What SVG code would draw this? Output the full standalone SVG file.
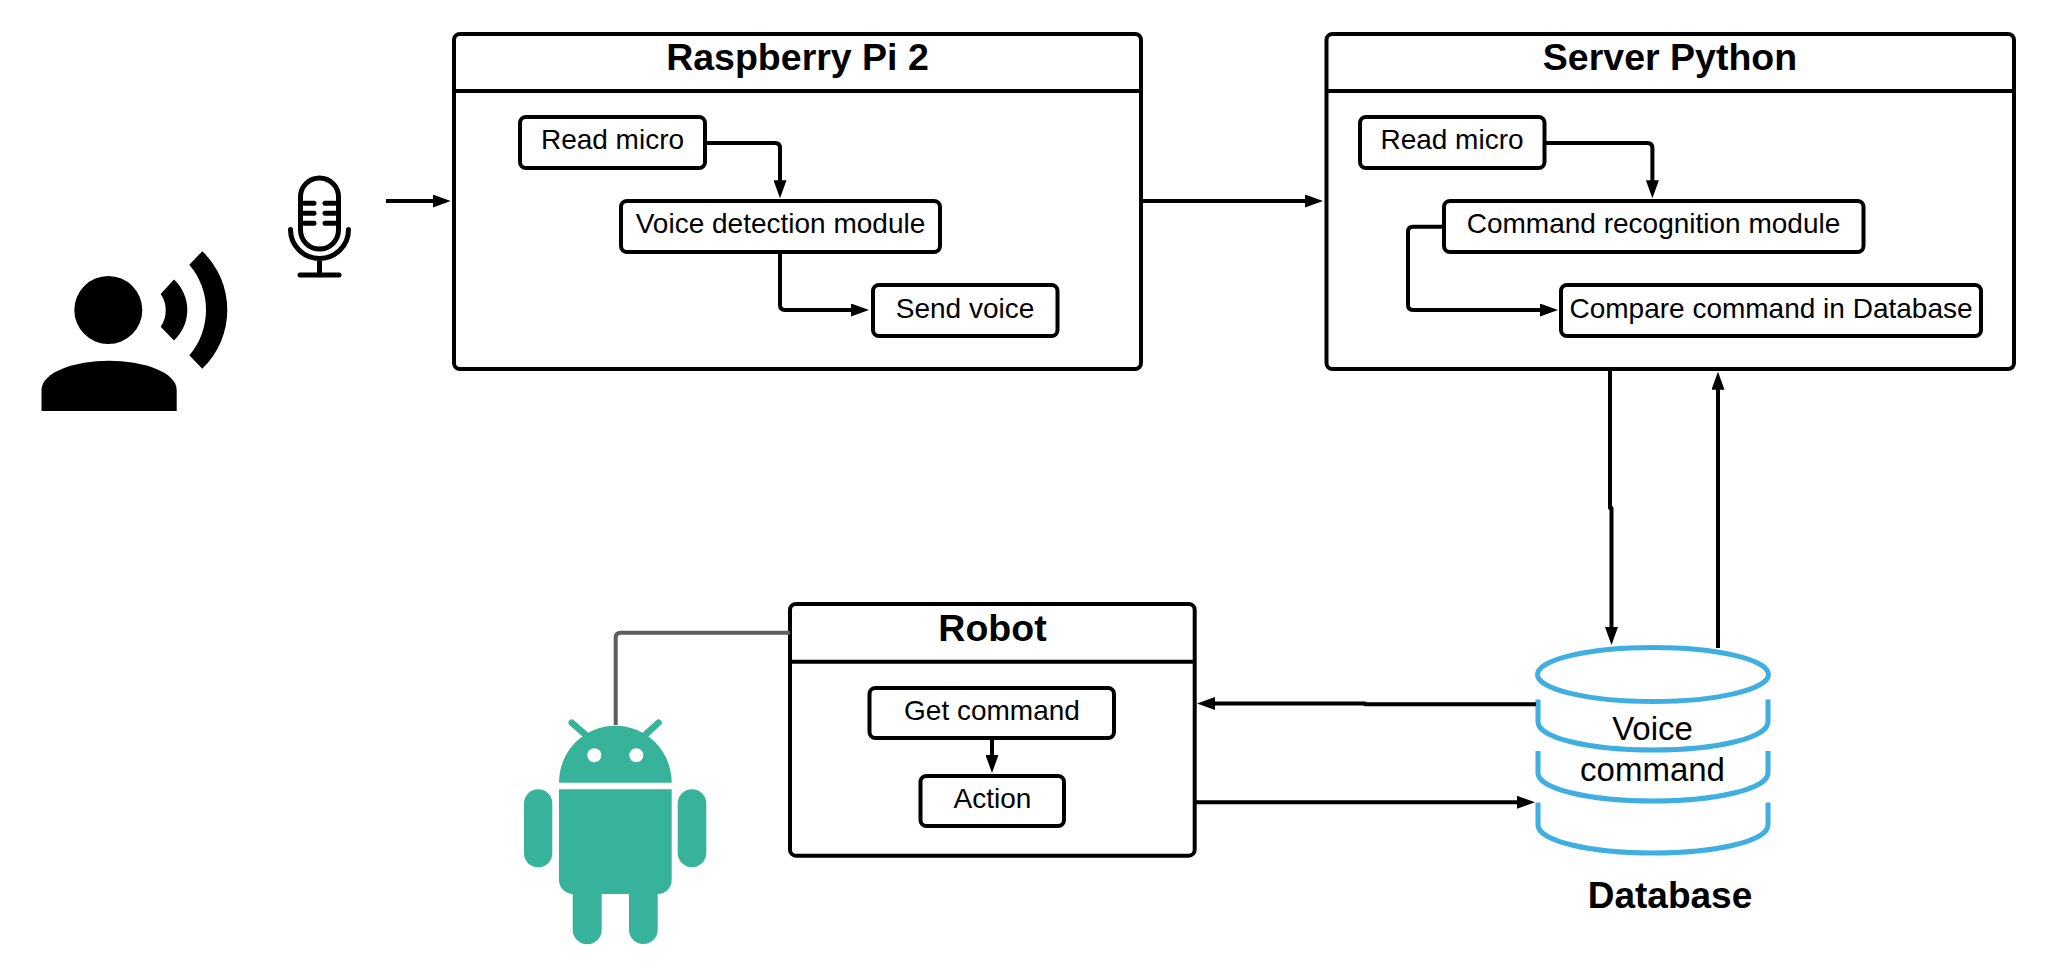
<svg xmlns="http://www.w3.org/2000/svg" width="2048" height="978" viewBox="0 0 2048 978">
<style>
text{font-family:"Liberation Sans",Arial,sans-serif;fill:#000;text-anchor:middle}
.t{font-size:37.500px;font-weight:bold}
.l{font-size:28px}
.b{fill:#fff;stroke:#000;stroke-width:4}
.s{fill:none;stroke:#000;stroke-width:4}
.c{fill:none;stroke:#000;stroke-width:4;stroke-linejoin:round}
.a{marker-end:url(#arrow)}
.db{fill:none;stroke:#3FAEE0;stroke-width:5}
.an{fill:#36B39A}
.m{fill:none;stroke:#000;stroke-width:5;stroke-linecap:round}
</style>
<defs>
<marker id="arrow" markerUnits="userSpaceOnUse" markerWidth="18" markerHeight="13" viewBox="0 0 18 13" refX="10" refY="6.500" orient="auto"><path d="M0 0L18 6.500L0 13Z" fill="#000"/></marker>
</defs>
<rect width="2048" height="978" fill="#fff"/>

<g id="person">
<circle cx="108.300" cy="310" r="34"/>
<path d="M41.500 411V390C41.500 372 75 360.700 109 360.700C143 360.700 176.700 372 176.700 390V411Z"/>
<path d="M174 279.600L160.700 294A29 29 0 0 1 160.700 326.700L174 340.400A41.400 41.400 0 0 0 174 279.600Z"/>
<path d="M202.300 251.300L189.300 264.700A69.800 69.800 0 0 1 189.300 355.300L202.300 368.700A81.400 81.400 0 0 0 202.300 251.300Z"/>
</g>

<g id="microphone">
<rect class="m" x="300.500" y="178" width="38" height="71" rx="19" ry="19"/>
<path class="m" d="M304 203.300H314M304 213.300H314M304 223.300H314M325 203.300H335M325 213.300H335M325 223.300H335M290.500 229.500A29 29 0 0 0 348.500 229.500M319.500 259V275M300 275H339"/>
</g>

<g id="raspberry">
<rect class="b" x="454" y="34" width="687" height="335" rx="6"/>
<path class="s" d="M454 91H1141"/>
<text class="t" x="797.500" y="70">Raspberry Pi 2</text>
</g>
<g id="pi-read"><rect class="b" x="520" y="117" width="185" height="51" rx="6"/><text class="l" x="612.500" y="149">Read micro</text></g>
<g id="pi-detect"><rect class="b" x="621" y="201" width="319" height="51" rx="6"/><text class="l" x="780.500" y="233">Voice detection module</text></g>
<g id="pi-send"><rect class="b" x="873" y="285" width="184.500" height="51" rx="6"/><text class="l" x="965" y="318">Send voice</text></g>

<g id="server">
<rect class="b" x="1326.500" y="34" width="687.500" height="335" rx="6"/>
<path class="s" d="M1326.500 91H2014"/>
<text class="t" x="1670" y="70">Server Python</text>
</g>
<g id="srv-read"><rect class="b" x="1360" y="117" width="184.500" height="51" rx="6"/><text class="l" x="1452" y="149">Read micro</text></g>
<g id="srv-command"><rect class="b" x="1444" y="201" width="419.500" height="51" rx="6"/><text class="l" x="1653.500" y="233">Command recognition module</text></g>
<g id="srv-compare"><rect class="b" x="1561" y="285" width="420" height="51" rx="6"/><text class="l" x="1771" y="318">Compare command in Database</text></g>

<g id="robot">
<rect class="b" x="790" y="604" width="404.700" height="251.700" rx="6"/>
<path class="s" d="M790 661.700H1194.700"/>
<text class="t" x="992.500" y="641">Robot</text>
</g>
<g id="rb-get"><rect class="b" x="869.500" y="688" width="244.500" height="50" rx="6"/><text class="l" x="992" y="720">Get command</text></g>
<g id="rb-action"><rect class="b" x="920.500" y="776" width="143.500" height="50" rx="6"/><text class="l" x="992.500" y="808">Action</text></g>

<g id="android">
<path class="an" d="M559 782.700A56.300 57 0 0 1 671.700 782.700Z"/>
<path d="M571.700 722.700L587 736M658.500 722.700L644 736" fill="none" stroke="#36B39A" stroke-width="6.500" stroke-linecap="round"/>
<circle cx="594.300" cy="755.300" r="7" fill="#fff"/>
<circle cx="636.300" cy="755.300" r="7" fill="#fff"/>
<path class="an" d="M559 789.300H671.700V880A14 14 0 0 1 657.700 894V929.700A14.350 14.350 0 0 1 629 929.700V894H601.700V929.700A14.500 14.500 0 0 1 572.700 929.700V894A14 14 0 0 1 559 880Z"/>
<rect class="an" x="524" y="789.300" width="28.300" height="78" rx="14.150"/>
<rect class="an" x="677.700" y="789.300" width="28.600" height="78" rx="14.300"/>
</g>

<g id="database">
<ellipse class="db" cx="1653" cy="674.500" rx="115.500" ry="27"/>
<path class="db" d="M1538 699.500V722C1538 738 1590 750 1653 750C1716 750 1768 738 1768 722V699.500"/>
<path class="db" d="M1538 751V773C1538 789 1590 801 1653 801C1716 801 1768 789 1768 773V751"/>
<path class="db" d="M1538 802.500V825C1538 841 1590 853 1653 853C1716 853 1768 841 1768 825V802.500"/>
<text x="1652.500" y="740" font-size="33">Voice</text>
<text x="1652.500" y="781" font-size="33">command</text>
<text x="1670" y="908" font-size="37" font-weight="bold">Database</text>
</g>

<g id="connectors">
<path class="c a" d="M386 201H442.700"/>
<path class="c a" d="M1141 201H1315"/>
<path class="c a" d="M705 143H775Q780 143 780 148V190.300"/>
<path class="c a" d="M780 252V305Q780 310 785 310H861"/>
<path class="c a" d="M1544.500 143H1647.400Q1652.400 143 1652.400 148V190.300"/>
<path class="c a" d="M1444 226.700H1413Q1408 226.700 1408 231.700V305Q1408 310 1413 310H1550"/>
<path class="c a" d="M992 738V765"/>
<path class="c a" d="M1610 369V508H1611.500V637"/>
<path class="c a" d="M1718 648V379.700"/>
<path class="c a" d="M1536 704.300H1365V703.500H1205"/>
<path class="c a" d="M1194.700 802.300H1527"/>
<path d="M790 632.700H620.700Q615.700 632.700 615.700 637.700V725" fill="none" stroke="#5E5E5E" stroke-width="4"/>
</g>
</svg>
